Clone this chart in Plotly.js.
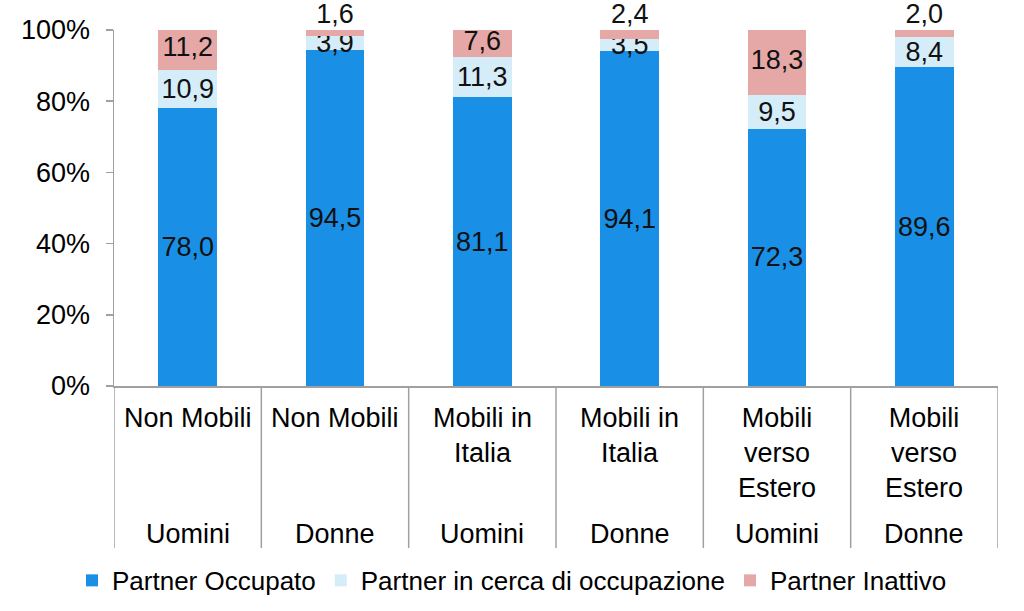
<!DOCTYPE html>
<html>
<head>
<meta charset="utf-8">
<script src="https://cdn.plot.ly/plotly-3.0.1.min.js"></script>
<style>html,body{margin:0;padding:0;background:#fff;}#chart{width:1024px;height:611px;}</style>
</head>
<body>
<div id="chart"></div>
<script>
// Data
var categoryKeys = ["NM-U", "NM-D", "MI-U", "MI-D", "ME-U", "ME-D"];
var mobilityLabels = ["Non Mobili", "Non Mobili", "Mobili in<br>Italia", "Mobili in<br>Italia", "Mobili<br>verso<br>Estero", "Mobili<br>verso<br>Estero"];
var genderLabels = ["Uomini", "Donne", "Uomini", "Donne", "Uomini", "Donne"];
var occupato = [78.0, 94.5, 81.1, 94.1, 72.3, 89.6];
var inCerca = [10.9, 3.9, 11.3, 3.5, 9.5, 8.4];
var inattivo = [11.2, 1.6, 7.6, 2.4, 18.3, 2.0];
var seriesNames = ["Partner Occupato", "Partner in cerca di occupazione", "Partner Inattivo"];
var yTicks = [0, 20, 40, 60, 80, 100];
var yTickText = ["0%", "20%", "40%", "60%", "80%", "100%"];

var FONT = "Liberation Sans, Arial, sans-serif";
var FS = 27;
var TXT = {family: FONT, size: FS, color: "#111"};

function barTrace(name, vals, color, withText) {
  var t = {
    type: "bar",
    name: name,
    x: categoryKeys,
    y: vals,
    marker: {color: color, line: {width: 0}},
    hoverinfo: "skip"
  };
  if (withText) {
    t.texttemplate = "%{y:.1f}";
    t.textposition = "inside";
    t.insidetextanchor = "middle";
    t.textangle = 0;
    t.constraintext = "none";
    t.textfont = TXT;
    t.insidetextfont = TXT;
    t.cliponaxis = false;
  } else {
    t.textposition = "none";
  }
  return t;
}

var traces = [
  barTrace(seriesNames[0], occupato, "#1a8fe6", true),
  barTrace(seriesNames[1], inCerca, "#d5ecf9", true),
  barTrace(seriesNames[2], inattivo, "#e6a8a6", false)
];

// Labels of the top segment: centred in the segment, or above the bar when the segment is thin
var inattivoLabelY = inattivo.map(function (v, k) {
  var base = occupato[k] + inCerca[k];
  return v < 5 ? base + v : base + v / 2;
});
var inattivoLabelPos = inattivo.map(function (v) { return v < 5 ? "top center" : "middle center"; });
traces.push({
  type: "scatter",
  mode: "text",
  x: categoryKeys,
  y: inattivoLabelY,
  text: inattivo.map(function (v) { return v.toFixed(1).replace(".", ","); }),
  textposition: inattivoLabelPos,
  textfont: TXT,
  cliponaxis: false,
  showlegend: false,
  hoverinfo: "skip"
});

var annotations = [];
var shapes = [];
for (var i = 0; i < categoryKeys.length; i++) {
  annotations.push({
    x: categoryKeys[i], xref: "x", y: 0, yref: "paper",
    yanchor: "top", yshift: -15, showarrow: false,
    text: mobilityLabels[i],
    font: {family: FONT, size: FS, color: "#000"}
  });
  annotations.push({
    x: categoryKeys[i], xref: "x", y: 0, yref: "paper",
    yanchor: "middle", yshift: -148, showarrow: false,
    text: genderLabels[i],
    font: {family: FONT, size: FS, color: "#000"}
  });
}
for (var j = 0; j <= categoryKeys.length; j++) {
  shapes.push({
    type: "line", xref: "x", yref: "paper",
    x0: j - 0.5, x1: j - 0.5, y0: 0, y1: -0.455,
    line: {color: "#a0a0a0", width: 1.5}
  });
}

var layout = {
  width: 1024, height: 611,
  margin: {l: 114, r: 26, t: 30, b: 225},
  paper_bgcolor: "#fff", plot_bgcolor: "#fff",
  separators: ",.",
  barmode: "stack",
  bargap: 0.6,
  font: {family: FONT, size: FS, color: "#000"},
  uniformtext: {mode: "show", minsize: FS},
  showlegend: true,
  legend: {
    orientation: "h", traceorder: "normal",
    xref: "container", yref: "container",
    x: 0.5, xanchor: "center", y: 0.05, yanchor: "middle",
    font: {family: FONT, size: 26, color: "#000"},
    itemwidth: 30
  },
  xaxis: {
    type: "category",
    showticklabels: false,
    showline: true, linecolor: "#a0a0a0", linewidth: 1.5,
    ticks: "", showgrid: false, zeroline: false,
    range: [-0.5, 5.5]
  },
  yaxis: {
    range: [0, 100],
    tickmode: "array",
    tickvals: yTicks,
    ticktext: yTickText,
    ticks: "outside", ticklen: 7, tickcolor: "#a0a0a0", tickwidth: 1.5,
    ticklabelstandoff: 10,
    showline: true, linecolor: "#a0a0a0", linewidth: 1.5,
    showgrid: false, zeroline: false,
    tickfont: {family: FONT, size: FS, color: "#000"}
  },
  annotations: annotations,
  shapes: shapes
};

Plotly.newPlot("chart", traces, layout, {displayModeBar: false, staticPlot: true});
</script>
</body>
</html>
